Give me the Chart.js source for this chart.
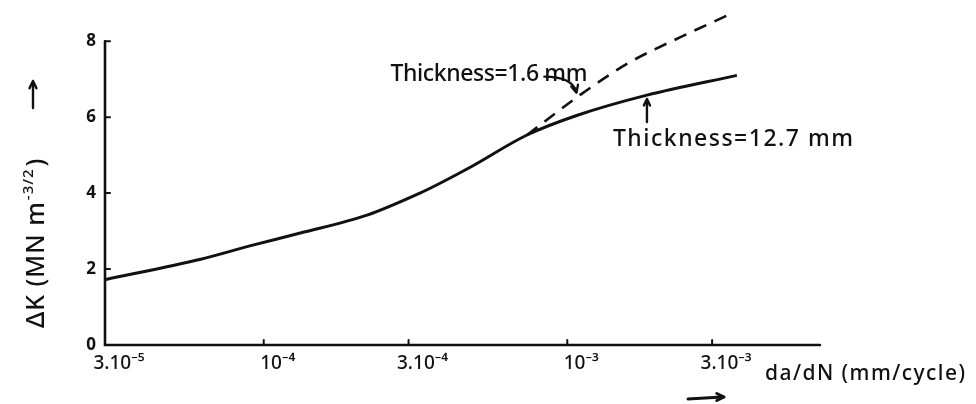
<!DOCTYPE html>
<html>
<head>
<meta charset="utf-8">
<title>da/dN vs ΔK</title>
<script src="https://cdn.jsdelivr.net/npm/chart.js@4.4.0/dist/chart.umd.min.js"></script>
<style>
  html, body { margin: 0; padding: 0; background: #fff; }
  #wrap { width: 976px; height: 404px; }
</style>
</head>
<body>
<div id="wrap"><canvas id="crackChart" width="976" height="404"></canvas></div>
<script>
// crack growth rate da/dN (mm/cycle) against ΔK (MN m^-3/2)
const rateThick = [3.0e-5, 6.2e-5, 9.0e-5, 1.32e-4, 2.19e-4, 3.27e-4, 3.81e-4, 4.79e-4, 7.37e-4, 1.08e-3, 1.83e-3, 3.62e-3];
const kThick = [1.72, 2.26, 2.61, 2.95, 3.42, 4.0, 4.26, 4.68, 5.53, 6.05, 6.58, 7.1];
const rateThin = [7.37e-4, 1.10e-3, 1.61e-3, 2.35e-3, 3.43e-3];
const kThin = [5.53, 6.58, 7.45, 8.1, 8.71];

const xTicks = [3e-5, 1e-4, 3e-4, 1e-3, 3e-3];
const xTickLabels = ['3.10⁻⁵', '10⁻⁴', '3.10⁻⁴', '10⁻³', '3.10⁻³'];
const yTicks = [0, 2, 4, 6, 8];

const INK = '#111';
const FONT = "'Noto Sans', 'DejaVu Sans', sans-serif";

// stretches text to a given width with letter spacing
function drawFitted(ctx, text, x, y, width) {
    ctx.letterSpacing = '0px';
    const w = ctx.measureText(text).width;
    const gap = (width - w) / Math.max(text.length - 1, 1);
    ctx.letterSpacing = gap + 'px';
    ctx.fillText(text, x, y);
    ctx.letterSpacing = '0px';
}

function arrowHead(ctx, x, y, angle, size) {
    ctx.beginPath();
    ctx.moveTo(x, y);
    ctx.lineTo(x - size * Math.cos(angle - 0.45), y - size * Math.sin(angle - 0.45));
    ctx.moveTo(x, y);
    ctx.lineTo(x - size * Math.cos(angle + 0.45), y - size * Math.sin(angle + 0.45));
    ctx.stroke();
}

// axes, tick marks, titles and labels drawn by hand from the scales
const sketchPlugin = {
    id: 'sketch',
    afterDatasetsDraw(chart) {
        const ctx = chart.ctx;
        const xs = chart.scales.x;
        const ys = chart.scales.y;
        const x0 = xs.getPixelForValue(xs.min);
        const x1 = xs.getPixelForValue(xs.max);
        const y0 = ys.getPixelForValue(0);
        const yTop = ys.getPixelForValue(yTicks[yTicks.length - 1]);

        ctx.save();
        ctx.strokeStyle = INK;
        ctx.fillStyle = INK;
        ctx.lineCap = 'round';

        // axis lines
        ctx.lineWidth = 2.6;
        ctx.beginPath();
        ctx.moveTo(x0, yTop);
        ctx.lineTo(x0, y0);
        ctx.lineTo(x1, y0);
        ctx.stroke();

        // tick marks
        ctx.lineWidth = 2;
        yTicks.forEach(v => {
            const py = ys.getPixelForValue(v);
            ctx.beginPath();
            ctx.moveTo(x0, py);
            ctx.lineTo(x0 + 5, py);
            ctx.stroke();
        });
        xTicks.forEach(v => {
            const px = xs.getPixelForValue(v);
            ctx.beginPath();
            ctx.moveTo(px, y0);
            ctx.lineTo(px, y0 - 5);
            ctx.stroke();
        });

        // y title, rotated, with superscript
        ctx.save();
        ctx.translate(44, 328);
        ctx.rotate(-Math.PI / 2);
        ctx.textBaseline = 'alphabetic';
        ctx.font = `500 25px ${FONT}`;
        ctx.letterSpacing = '1px';
        ctx.fillText('ΔK (MN m', 0, 0);
        let w = ctx.measureText('ΔK (MN m').width;
        ctx.font = `500 15px ${FONT}`;
        ctx.fillText('-3/2', w + 1, -11);
        w += ctx.measureText('-3/2').width + 3;
        ctx.font = `500 25px ${FONT}`;
        ctx.fillText(')', w, 0);
        ctx.letterSpacing = '0px';
        ctx.restore();

        // up arrow beside the y title
        ctx.lineWidth = 2.4;
        ctx.beginPath();
        ctx.moveTo(33, 108);
        ctx.lineTo(33, 82);
        ctx.stroke();
        arrowHead(ctx, 33, 81, -Math.PI / 2, 8);

        // x title and its arrow
        ctx.font = `500 21px ${FONT}`;
        ctx.textBaseline = 'alphabetic';
        drawFitted(ctx, 'da/dN (mm/cycle)', 765, 380, 200);
        ctx.lineWidth = 3;
        ctx.beginPath();
        ctx.moveTo(688, 399);
        ctx.lineTo(722, 397);
        ctx.stroke();
        arrowHead(ctx, 724, 397, 0, 8);

        // label for the thin specimen, arrow onto the dashed curve
        const thinTip = { x: xs.getPixelForValue(1.08e-3), y: ys.getPixelForValue(6.62) };
        ctx.font = `500 23px ${FONT}`;
        drawFitted(ctx, 'Thickness=1.6 mm', thinTip.x - 187, thinTip.y - 13, 197);
        ctx.lineWidth = 2.4;
        ctx.beginPath();
        ctx.moveTo(thinTip.x - 33, thinTip.y - 17);
        ctx.quadraticCurveTo(thinTip.x - 6, thinTip.y - 17, thinTip.x - 1, thinTip.y - 2);
        ctx.stroke();
        arrowHead(ctx, thinTip.x - 1, thinTip.y - 1, Math.PI * 0.42, 8);

        // label for the thick specimen, arrow up to the solid curve
        const thickTip = { x: xs.getPixelForValue(1.83e-3), y: ys.getPixelForValue(6.45) };
        ctx.beginPath();
        ctx.moveTo(thickTip.x, thickTip.y + 22);
        ctx.lineTo(thickTip.x, thickTip.y);
        ctx.stroke();
        arrowHead(ctx, thickTip.x, thickTip.y - 1, -Math.PI / 2, 7);
        ctx.font = `500 23px ${FONT}`;
        drawFitted(ctx, 'Thickness=12.7 mm', thickTip.x - 34, thickTip.y + 46, 240);

        ctx.restore();
    }
};

const ctx = document.getElementById('crackChart').getContext('2d');
new Chart(ctx, {
    type: 'line',
    data: {
        datasets: [
            {
                label: 'Thickness=12.7 mm',
                data: rateThick.map((r, i) => ({ x: r, y: kThick[i] })),
                borderColor: INK,
                borderWidth: 3,
                pointRadius: 0,
                cubicInterpolationMode: 'monotone',
                fill: false,
                clip: false
            },
            {
                label: 'Thickness=1.6 mm',
                data: rateThin.map((r, i) => ({ x: r, y: kThin[i] })),
                borderColor: INK,
                borderWidth: 2.6,
                borderDash: [13, 9],
                pointRadius: 0,
                cubicInterpolationMode: 'monotone',
                fill: false,
                clip: false
            }
        ]
    },
    options: {
        responsive: false,
        animation: false,
        layout: { padding: { left: 75, right: 156, top: 3, bottom: 19 } },
        plugins: {
            legend: { display: false },
            tooltip: { enabled: false }
        },
        scales: {
            x: {
                type: 'logarithmic',
                min: 3e-5,
                max: 6.8e-3,
                grid: { display: false, drawTicks: false },
                border: { display: false },
                afterBuildTicks: s => { s.ticks = xTicks.map(v => ({ value: v })); },
                afterFit: s => { s.height = 40; },
                ticks: {
                    autoSkip: false,
                    maxRotation: 0,
                    padding: 7,
                    labelOffset: 14,
                    color: INK,
                    font: { family: FONT, size: 19, weight: '500' },
                    callback: (v, i) => xTickLabels[i]
                }
            },
            y: {
                min: 0,
                max: 8.58,
                grid: { display: false, drawTicks: false },
                border: { display: false },
                afterBuildTicks: s => { s.ticks = yTicks.map(v => ({ value: v })); },
                afterFit: s => { s.width = 30; },
                ticks: {
                    padding: 9,
                    color: INK,
                    font: { family: FONT, size: 17, weight: 'bold' }
                }
            }
        }
    },
    plugins: [sketchPlugin]
});
</script>
</body>
</html>
